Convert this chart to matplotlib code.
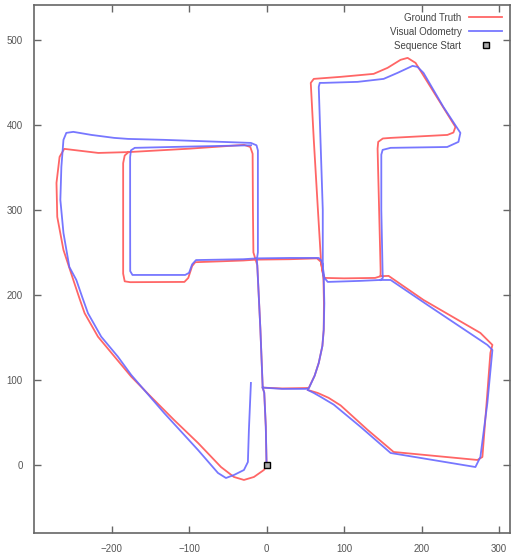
import numpy as np
import matplotlib
matplotlib.use('Agg')
from matplotlib import pyplot as plt

plt.rcParams['font.family'] = ['Liberation Sans', 'DejaVu Sans']

nan = np.nan

# ground truth path (red), pieces split by nan
gt_x = [0, -1, -3, -5, -8, -12, -14, -17, -17.6, -18, -21, -29, -100, -178, -217, -261, -267, -271, -270, -262,
        -248, -241, -234.7, -217.5, -196.1, -174.6, -148.9, -119.3, -88.4, -58.8, -42.1, -29.2, -16.3, -3.5, 0,
        nan,
        -178, -183, -185, -185, -185, -183, -176, -106, -101, -96, -92, -60, -30, -14, 30, 65, 70, 72.5, 75,
        100, 140, 147, 157.4, 202.4, 275.8, 291.3, 288.7, 284.8, 278.4, 272, 163.9, 130.4, 95.6, 80, 66, 53.2,
        nan,
        -5, 20, 50, 54.4, 62, 67.3, 72, 73.7, 74, 73.4, 72.5, 70, 69.9, 66, 60.9, 57, 60.9, 95.6, 138.1,
        156.1, 172.8, 181.9, 192.2, 243.6, 241, 233.3, 160, 150, 144, 143.2, 147.1, 147]
gt_y = [0, 45, 85, 91, 160, 235, 241, 250, 300, 366, 374, 376.5, 372, 368, 367, 371.8, 362.4, 331.8, 291.8, 252.9,
        214.1, 195, 178.5, 150.9, 127.4, 103.9, 80, 52.9, 25.9, -2.4, -14.1, -17.6, -14.1, -5.9, -1,
        nan,
        368, 364, 355, 300, 225, 216, 215, 215.3, 220, 234, 238.5, 239.5, 240.5, 241.5, 242, 243, 239, 226, 220,
        219.5, 220, 222, 222.4, 194.1, 155.3, 141.2, 131.8, 84.7, 9.4, 5.9, 15.3, 41.2, 70, 79, 84.7, 88.2,
        nan,
        91, 90, 90.5, 90.6, 105, 120, 140, 158.8, 190, 217.6, 226, 240, 244.7, 303.5, 382.4, 449.4, 454.1, 456.5, 460,
        467.1, 476.5, 478.8, 472.9, 397.6, 391, 388.2, 384.7, 384, 380, 372, 229.4, 222]

# visual odometry path (blue)
vo_x = [0, -1, -3, -5, -8, -12, -12.5, -11.2, -11.2, -11.2, -13, -20.2, -132.2, -178.5, -196.5, -226, -249.3, -258.3,
        -262, -264.7, -266, -262, -254.4, -245.4, -238, -230.4, -213.3, -191.8, -174.6, -132.2, -88.4, -62.7, -52.4,
        -42.1, -29.2, -24.1, -22.8, -20.2,
        nan,
        -20, -100, -170, -175, -176, -176, -175.9, -173, -105, -100, -96, -91, -30, -13, 30, 67.3, 71, 72.5, 73.7,
        78.9, 120, 147, 160, 207.6, 284.8, 291.3, 284.8, 275.8, 269.4, 160, 121.4, 86.6, 70, 60.9, 53.2,
        nan,
        -5, 20, 50, 54.4, 62, 67.3, 72, 73.7, 74.5, 73.7, 72.5, 72.5, 67.3, 68.6, 73.7, 117.5, 151, 169, 188.3, 194.7,
        202.4, 228, 250, 247.5, 233, 160, 149.7, 148, 148, 149.7, 150, 147]
vo_y = [0, 45, 85, 91, 160, 235, 242, 250, 300, 370, 376, 378.8, 382.4, 383.5, 384.7, 388.2, 391.8, 390.6,
        382.4, 350.6, 311.8, 272.9, 232.9, 217.6, 198, 178.5, 150.9, 127.4, 105.9, 61.2, 17.6, -9.4, -15.3,
        -11.8, -5.9, 3.5, 41.2, 96.5,
        nan,
        376, 374.5, 373, 370, 362, 300, 228, 223.5, 223.5, 226, 236, 241, 242, 243, 243.5, 243.5, 240, 235.3, 221.2,
        215.3, 216.5, 217.6, 217.6, 188.2, 141.2, 135.3, 72.9, 9.4, -2.4, 14.1, 44.7, 71, 80, 84.7, 88.2,
        nan,
        91, 89.5, 89.5, 90, 105, 120, 140, 158.8, 190, 221.2, 235.3, 300, 444.7, 449.4, 449.4, 450.6, 454.1, 461.2,
        469.4, 468.2, 461.2, 421.2, 390.6, 380, 374, 373, 370.6, 365, 300, 225, 220, 217.6]

start_x = [0]
start_y = [0]

fig = plt.figure(figsize=(5.13, 5.56), dpi=100)
ax = fig.add_axes([34 / 513, 23 / 556, 476 / 513, 528 / 556])

ax.plot(gt_x, gt_y, color='#ff6666', lw=1.3, label='Ground Truth')
ax.plot(vo_x, vo_y, color='#6868ff', lw=1.3, alpha=0.9, label='Visual Odometry')
ax.plot(start_x, start_y, 's', ms=4, mfc='#aaaaaa', mec='black', mew=1, ls='none', label='Sequence Start')

ax.set_xlim(-300, 314)
ax.set_ylim(-80, 541)
ax.set_xticks([-200, -100, 0, 100, 200, 300])
ax.set_yticks([0, 100, 200, 300, 400, 500])

for s in ax.spines.values():
    s.set_color('#666666')
    s.set_linewidth(1.2)
ax.tick_params(direction='in', length=5, width=1, colors='#666666', labelcolor='#555555',
               labelsize=7, top=True, right=True, pad=8)

ax.legend(loc='upper right', frameon=False, markerfirst=False, fontsize=7,
          handlelength=3.4, handletextpad=0.8, labelspacing=0.4, borderaxespad=0.5,
          borderpad=0.3, labelcolor='#444444')

fig.savefig('out.png', dpi=100)
